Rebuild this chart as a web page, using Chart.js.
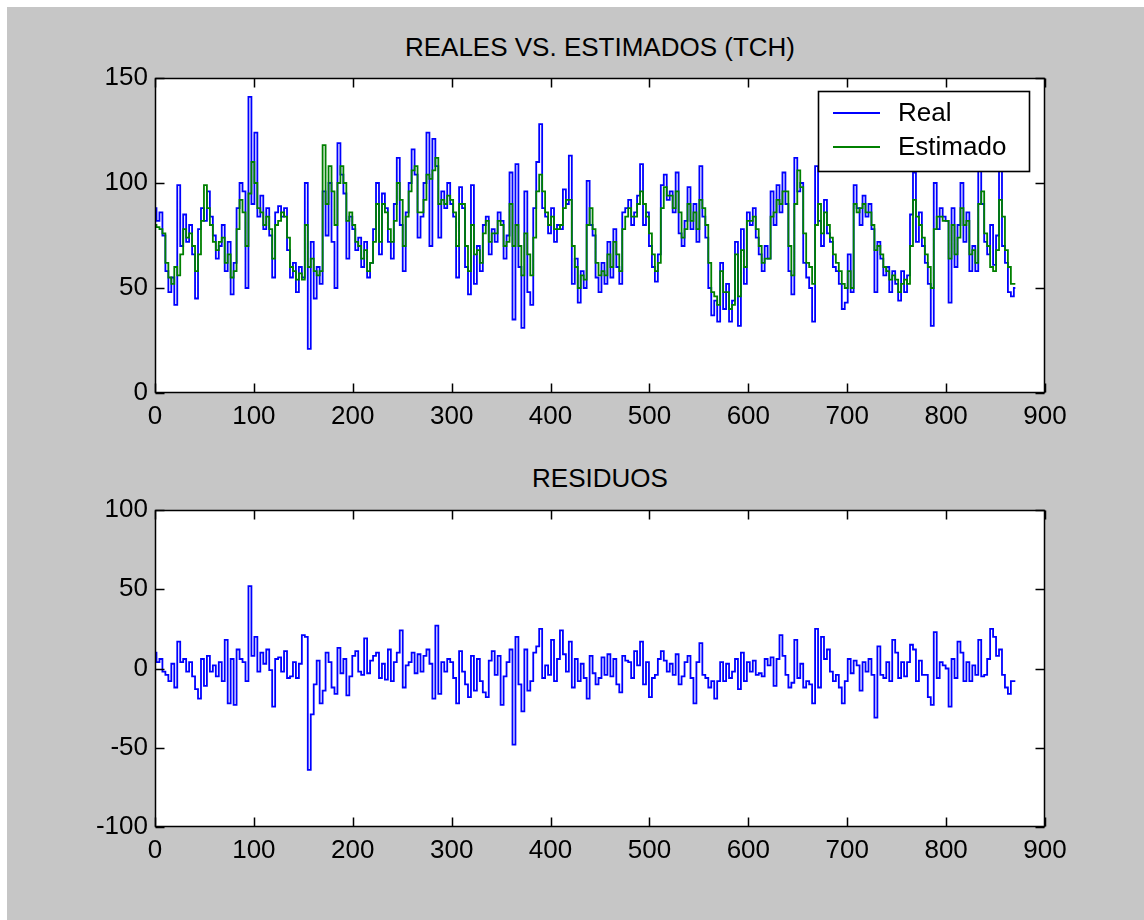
<!DOCTYPE html>
<html><head><meta charset="utf-8">
<script src="https://cdn.jsdelivr.net/npm/chart.js@4.4.1/dist/chart.umd.min.js"></script>
<style>
html,body{margin:0;padding:0;background:#fff;width:1144px;height:920px;overflow:hidden;position:relative}
#bg{position:absolute;left:7px;top:7px;width:1137px;height:913px;background:#c6c6c6}
canvas{position:absolute;left:0}
.title{position:absolute;left:0;width:1200px;text-align:center;font-family:'Liberation Sans',Arial,sans-serif;font-size:26px;line-height:26px;color:#000;white-space:nowrap}
</style></head><body>
<div id="bg"></div>
<div class="title" style="top:34px">REALES VS. ESTIMADOS (TCH)</div>
<div class="title" style="top:465px">RESIDUOS</div>
<canvas id="c1" width="1144" height="410" style="top:40px"></canvas>
<canvas id="c2" width="1144" height="420" style="top:470px"></canvas>
<script>
const STEP = 3;
const real = [
88,82,86,75,58,48,55,42,99,70,
85,72,80,66,45,78,88,82,96,84,
75,64,70,80,58,72,47,62,88,100,
96,50,141,90,124,84,94,78,88,75,
55,86,89,84,88,68,55,62,48,60,
55,100,21,72,45,60,52,96,75,100,
72,50,119,104,95,64,84,78,68,74,
60,72,55,62,78,100,66,95,88,72,
64,90,112,80,58,86,100,116,104,74,
84,100,124,70,121,108,74,96,88,100,
90,84,55,98,88,60,47,99,52,70,
58,80,84,66,78,72,86,82,64,75,
105,35,109,60,31,96,48,42,88,110,
128,88,84,76,88,72,80,78,97,90,
113,52,64,43,58,50,101,80,75,55,
48,62,52,72,55,78,60,52,86,88,
92,80,86,94,109,80,86,70,60,53,
66,99,104,92,96,86,105,76,70,82,
98,78,90,72,108,84,74,50,37,44,
34,62,40,52,34,44,72,32,78,52,
86,80,88,74,66,58,70,64,96,80,
99,86,105,90,58,47,112,96,100,62,
55,50,34,108,82,70,92,76,72,60,
58,52,40,43,66,48,99,88,80,94,
84,90,78,48,72,64,56,60,48,58,
52,44,58,48,56,85,105,72,86,70,
62,52,32,100,78,88,84,82,43,88,
60,80,100,72,86,58,70,58,108,90,
72,66,80,61,75,110,70,62,48,46,
50];
const estimado = [
80,79,78,76,62,55,52,60,56,66,
78,74,76,70,58,66,82,99,88,80,
72,68,72,74,62,66,55,58,78,92,
86,70,95,110,100,88,86,80,84,78,
64,80,82,86,84,74,60,58,54,57,
54,80,60,64,58,56,58,118,90,108,
96,80,100,108,100,82,86,80,72,70,
64,68,58,62,72,90,72,90,86,78,
72,82,100,92,70,84,96,106,108,86,
86,92,104,102,106,112,90,92,90,94,
92,86,70,90,90,70,58,80,66,68,
62,76,82,72,76,76,82,80,70,72,
90,70,80,70,56,76,66,56,74,96,
104,96,86,80,84,78,78,80,88,92,
92,70,60,50,56,54,80,88,78,62,
56,58,56,66,60,72,66,58,78,84,
88,84,84,90,96,90,84,76,66,58,
62,88,98,94,94,88,96,86,74,78,
90,82,86,78,92,88,80,62,48,46,
42,58,48,48,40,42,66,46,68,60,
82,82,84,78,70,62,64,64,84,86,
92,90,96,96,70,56,90,106,98,76,
62,60,52,80,90,76,86,80,74,66,
62,58,52,50,58,50,90,86,88,90,
86,86,80,68,70,66,60,58,54,56,
54,48,52,54,52,70,92,84,80,74,
66,60,50,78,84,84,82,82,64,80,
66,74,88,80,82,66,68,62,90,96,
76,70,60,58,68,92,84,68,60,52,
52];
const residuos = [
10,4,6,-2,-4,-8,3,-12,17,4,
6,-2,4,-5,-13,-19,6,-11,8,-2,
2,-5,4,-8,18,-22,6,-23,12,6,
4,-8,52,8,20,-2,10,3,12,-1,
-24,6,7,-2,11,-6,-5,4,-6,3,
21,20,-64,-29,-10,5,-22,-14,10,4,
-12,-16,13,-3,6,-17,-5,8,11,-2,
-4,19,-3,5,8,10,-6,3,-7,12,
-8,4,10,24,-12,2,4,10,-3,9,
-2,8,12,3,-19,27,-16,4,-2,6,
4,-6,-22,11,-2,-10,-18,8,-14,6,
-8,-15,-18,5,11,-4,8,-23,-5,4,
12,-48,20,-10,-27,12,-14,-8,10,14,
25,-6,2,-4,18,-8,6,24,9,-2,
17,-12,6,-8,3,-6,-19,8,-3,-10,
-6,7,-4,9,-5,6,-10,-15,8,5,
4,-6,11,2,17,-10,4,-18,-6,-4,
6,11,5,-2,3,-4,9,-10,-5,4,
8,-6,-22,4,16,-4,-6,-12,-8,-19,
-8,4,-8,3,-6,-2,6,-13,10,-8,
4,-2,5,-4,-3,-5,6,2,7,-11,
6,21,8,-4,-12,-9,18,-6,3,-12,
-8,-10,-22,25,-12,20,6,12,-2,-8,
-4,-12,-22,-8,6,-3,5,2,-14,4,
-2,6,-4,-31,14,-4,-6,4,-8,18,
10,-6,4,-5,4,15,12,-8,5,-4,
-4,-18,-23,23,-6,4,2,0,-24,6,
-6,17,10,-8,4,-8,2,-4,18,-5,
-4,6,25,20,8,12,-4,-12,-16,-8,
-8];
const xTicks = [0,100,200,300,400,500,600,700,800,900];
const yTicksTop = [0,50,100,150];
const yTicksBottom = [-100,-50,0,50,100];
const legendLabels = ['Real','Estimado'];

const xs = real.map((_, i) => i * STEP);
const pts = arr => arr.map((v, i) => ({x: xs[i], y: v}));

Chart.defaults.font.family = "'Liberation Sans', Arial, sans-serif";
Chart.defaults.font.size = 26;
Chart.defaults.color = '#000';

const LW = 1.8;

const framePlugin = {
  id: 'frame',
  beforeDraw(chart) {
    const {ctx, chartArea: a} = chart;
    ctx.save();
    ctx.fillStyle = '#fff';
    ctx.fillRect(a.left, a.top, a.right - a.left, a.bottom - a.top);
    ctx.restore();
  },
  afterDatasetsDraw(chart, args, opts) {
    if (!opts.legend) return;
    const ctx = chart.ctx;
    const a = chart.chartArea;
    const bx = a.right - 227, by = a.top + 13, bw = 211, bh = 80;
    ctx.save();
    ctx.fillStyle = '#fff';
    ctx.fillRect(bx, by, bw + 1, bh + 1);
    ctx.strokeStyle = '#000';
    ctx.lineWidth = 1.6;
    ctx.strokeRect(bx + 0.5, by + 0.5, bw, bh);
    const cols = ['#0000ff', '#008000'];
    const ys = [by + 22, by + 56];
    ctx.font = "26px 'Liberation Sans', Arial, sans-serif";
    ctx.textBaseline = 'middle';
    ctx.textAlign = 'left';
    for (let i = 0; i < 2; i++) {
      ctx.strokeStyle = cols[i];
      ctx.lineWidth = 2;
      ctx.beginPath(); ctx.moveTo(bx + 15, ys[i]); ctx.lineTo(bx + 62, ys[i]); ctx.stroke();
      ctx.fillStyle = '#000';
      ctx.fillText(legendLabels[i], bx + 80, ys[i] + 1);
    }
    ctx.restore();
  },
  afterDraw(chart) {
    const {ctx, chartArea: a, scales} = chart;
    ctx.save();
    ctx.strokeStyle = '#000';
    ctx.lineWidth = 1.5;
    const L = Math.round(a.left) + 0.5, R = Math.round(a.right) - 0.5;
    const T = Math.round(a.top) + 0.5, B = Math.round(a.bottom) - 0.5;
    ctx.strokeRect(L, T, R - L, B - T);
    const tl = 9;
    ctx.beginPath();
    scales.x.ticks.forEach(t => {
      const px = Math.round(scales.x.getPixelForValue(t.value)) + 0.5;
      ctx.moveTo(px, B); ctx.lineTo(px, B - tl);
      ctx.moveTo(px, T); ctx.lineTo(px, T + tl);
    });
    scales.y.ticks.forEach(t => {
      const py = Math.round(scales.y.getPixelForValue(t.value)) + 0.5;
      ctx.moveTo(L, py); ctx.lineTo(L + tl, py);
      ctx.moveTo(R, py); ctx.lineTo(R - tl, py);
    });
    ctx.stroke();
    ctx.restore();
  }
};

function makeChart(id, datasets, yTicks, padTop, xH, legend) {
  return new Chart(document.getElementById(id), {
    type: 'line',
    data: {datasets},
    options: {
      responsive: false,
      animation: false,
      events: [],
      layout: {padding: {left: 0, right: 99, top: padTop, bottom: 0}},
      plugins: {legend: {display: false}, tooltip: {enabled: false}, frame: {legend}},
      scales: {
        x: {
          type: 'linear', min: xTicks[0], max: xTicks[xTicks.length - 1],
          afterBuildTicks: s => { s.ticks = xTicks.map(v => ({value: v})); },
          afterFit: s => { s.height = xH; },
          grid: {display: false, drawTicks: false},
          border: {display: false},
          ticks: {autoSkip: false, maxRotation: 0, padding: 8, color: '#000'}
        },
        y: {
          type: 'linear', min: yTicks[0], max: yTicks[yTicks.length - 1],
          afterBuildTicks: s => { s.ticks = yTicks.map(v => ({value: v})); },
          afterFit: s => { s.width = 155; },
          grid: {display: false, drawTicks: false},
          border: {display: false},
          ticks: {padding: 7, color: '#000'}
        }
      }
    },
    plugins: [framePlugin]
  });
}

makeChart('c1', [
  {label: legendLabels[1], data: pts(estimado), borderColor: '#008000', borderWidth: LW, pointRadius: 0, stepped: 'middle', order: 0},
  {label: legendLabels[0], data: pts(real), borderColor: '#0000ff', borderWidth: LW, pointRadius: 0, stepped: 'middle', order: 1}
], yTicksTop, 38, 57, true);

makeChart('c2', [
  {label: 'Residuos', data: pts(residuos), borderColor: '#0000ff', borderWidth: LW, pointRadius: 0, stepped: 'middle'}
], yTicksBottom, 40, 63, false);
</script>
</body></html>
